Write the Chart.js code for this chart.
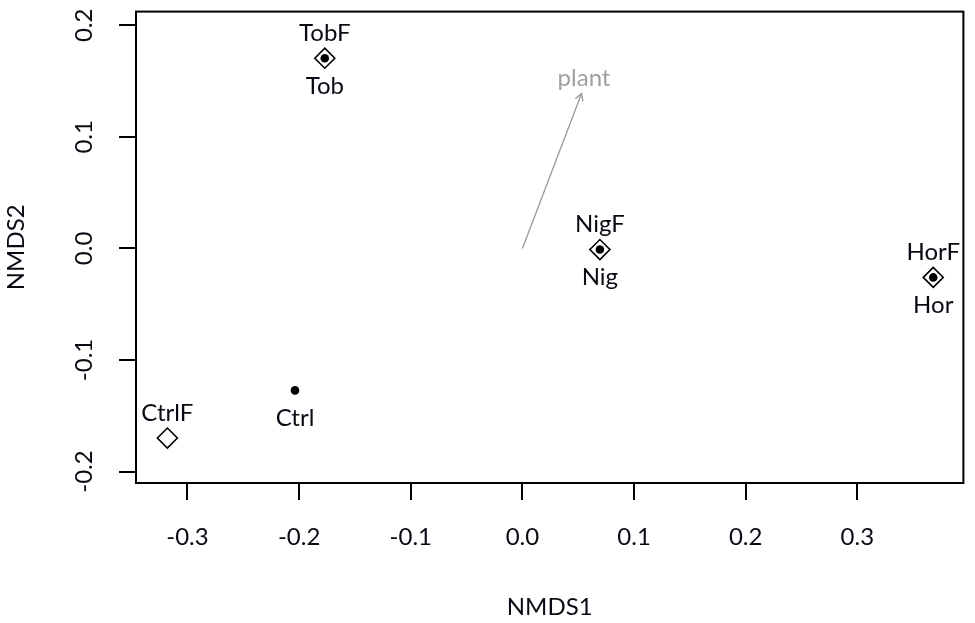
<!DOCTYPE html>
<html>
<head>
<meta charset="utf-8">
<script src="https://cdn.jsdelivr.net/npm/chart.js@4.4.0/dist/chart.umd.min.js"></script>
<style>
  html, body { margin: 0; padding: 0; background: #ffffff; }
  #wrap { width: 975px; height: 623px; position: relative; }
</style>
</head>
<body>
<div id="wrap"><canvas id="c" width="975" height="623"></canvas></div>
<script>
// ---- data ----
const siteNames = ['Ctrl', 'Tob', 'Nig', 'Hor'];
const siteX = [-0.2037, -0.177, 0.0694, 0.368];
const siteY = [-0.1273, 0.1705, -0.001, -0.026];

const fNames = ['CtrlF', 'TobF', 'NigF', 'HorF'];
const fX = [-0.318, -0.177, 0.0694, 0.368];
const fY = [-0.170, 0.1705, -0.001, -0.026];

const vectorName = 'plant';
const vectorX = [0, 0.053];
const vectorY = [0, 0.1388];
const vectorLabelX = 0.0552;
const vectorLabelY = 0.1525;

const xTicks = [-0.3, -0.2, -0.1, 0.0, 0.1, 0.2, 0.3];
const yTicks = [-0.2, -0.1, 0.0, 0.1, 0.2];
const xRange = [-0.3461, 0.395];
const yRange = [-0.2103, 0.2123];
const xTitle = 'NMDS1';
const yTitle = 'NMDS2';

const FONT = 'Lato';
const TEXT = '#0a0a14';
const toPts = (xs, ys) => xs.map((x, i) => ({ x: x, y: ys[i] }));

// ---- plugins ----
const boxPlugin = {
  id: 'box',
  afterDraw(chart) {
    const { ctx, chartArea: a } = chart;
    ctx.save();
    ctx.strokeStyle = '#000';
    ctx.lineWidth = 2;
    ctx.strokeRect(a.left, a.top, a.right - a.left, a.bottom - a.top);
    ctx.restore();
  }
};

const yLabelPlugin = {
  id: 'yLabels',
  afterDraw(chart) {
    const { ctx } = chart;
    const ys = chart.scales.y;
    ctx.save();
    ctx.fillStyle = TEXT;
    ctx.font = '24px ' + FONT;
    ctx.textAlign = 'center';
    ctx.textBaseline = 'middle';
    ys.ticks.forEach(t => {
      const py = ys.getPixelForValue(t.value);
      ctx.save();
      ctx.translate(84, py);
      ctx.rotate(-Math.PI / 2);
      ctx.fillText(t.value.toFixed(1), 0, 0);
      ctx.restore();
    });
    ctx.restore();
  }
};

const pointLabelPlugin = {
  id: 'pointLabels',
  afterDatasetsDraw(chart) {
    const { ctx } = chart;
    const xs = chart.scales.x, ys = chart.scales.y;
    ctx.save();
    ctx.font = '24px ' + FONT;
    ctx.textAlign = 'center';
    ctx.textBaseline = 'alphabetic';
    chart.data.datasets.forEach(ds => {
      if (!ds.labelNames) return;
      ctx.fillStyle = ds.labelColor;
      ds.data.forEach((p, i) => {
        const px = xs.getPixelForValue(p.x);
        const py = ys.getPixelForValue(p.y);
        ctx.fillText(ds.labelNames[i], px, py + ds.labelOffset + 8.5);
      });
    });
    // vector label + arrow head
    const tx = xs.getPixelForValue(vectorX[1]), ty = ys.getPixelForValue(vectorY[1]);
    const ox = xs.getPixelForValue(vectorX[0]), oy = ys.getPixelForValue(vectorY[0]);
    const ang = Math.atan2(ty - oy, tx - ox);
    const hl = 8, ha = Math.PI / 6;
    ctx.strokeStyle = '#999';
    ctx.lineWidth = 1.3;
    ctx.beginPath();
    ctx.moveTo(tx - hl * Math.cos(ang - ha), ty - hl * Math.sin(ang - ha));
    ctx.lineTo(tx, ty);
    ctx.lineTo(tx - hl * Math.cos(ang + ha), ty - hl * Math.sin(ang + ha));
    ctx.stroke();
    ctx.fillStyle = '#a0a0a0';
    ctx.textBaseline = 'middle';
    ctx.fillText(vectorName, xs.getPixelForValue(vectorLabelX), ys.getPixelForValue(vectorLabelY));
    ctx.restore();
  }
};

new Chart(document.getElementById('c'), {
  type: 'scatter',
  data: {
    datasets: [
      {
        type: 'line',
        data: toPts(vectorX, vectorY),
        borderColor: '#999',
        borderWidth: 1.3,
        pointRadius: 0,
        fill: false
      },
      {
        data: toPts(fX, fY),
        pointStyle: 'rectRot',
        pointRadius: 10,
        pointHoverRadius: 10,
        borderColor: '#000',
        borderWidth: 1.6,
        backgroundColor: 'rgba(255,255,255,0)',
        labelNames: fNames,
        labelOffset: -26,
        labelColor: TEXT
      },
      {
        data: toPts(siteX, siteY),
        pointStyle: 'circle',
        pointRadius: 4.3,
        pointHoverRadius: 4.3,
        borderWidth: 0,
        backgroundColor: '#000',
        labelNames: siteNames,
        labelOffset: 27,
        labelColor: TEXT
      }
    ]
  },
  options: {
    responsive: false,
    animation: false,
    events: [],
    layout: { padding: { left: 0, right: 6, top: 7, bottom: 0 } },
    plugins: { legend: { display: false }, tooltip: { enabled: false } },
    scales: {
      x: {
        type: 'linear',
        min: xRange[0], max: xRange[1],
        afterBuildTicks: s => { s.ticks = xTicks.map(v => ({ value: v })); },
        afterFit: s => { s.height = 140; },
        grid: { drawOnChartArea: false, drawTicks: true, tickLength: 17, color: '#000', lineWidth: 2 },
        border: { display: false },
        ticks: {
          color: TEXT, font: { family: FONT, size: 24 }, padding: 23,
          maxRotation: 0, autoSkip: false,
          callback: v => Number(v).toFixed(1)
        },
        title: { display: true, text: xTitle, color: TEXT, font: { family: FONT, size: 24 }, padding: { top: 0, bottom: 1 } }
      },
      y: {
        type: 'linear',
        min: yRange[0], max: yRange[1],
        afterBuildTicks: s => { s.ticks = yTicks.map(v => ({ value: v })); },
        afterFit: s => { s.width = 136; },
        grid: { drawOnChartArea: false, drawTicks: true, tickLength: 17, color: '#000', lineWidth: 2 },
        border: { display: false },
        ticks: { display: false },
        title: { display: true, text: yTitle, color: TEXT, font: { family: FONT, size: 24 }, padding: { top: 2, bottom: 0 } }
      }
    }
  },
  plugins: [boxPlugin, yLabelPlugin, pointLabelPlugin]
});
</script>
</body>
</html>
